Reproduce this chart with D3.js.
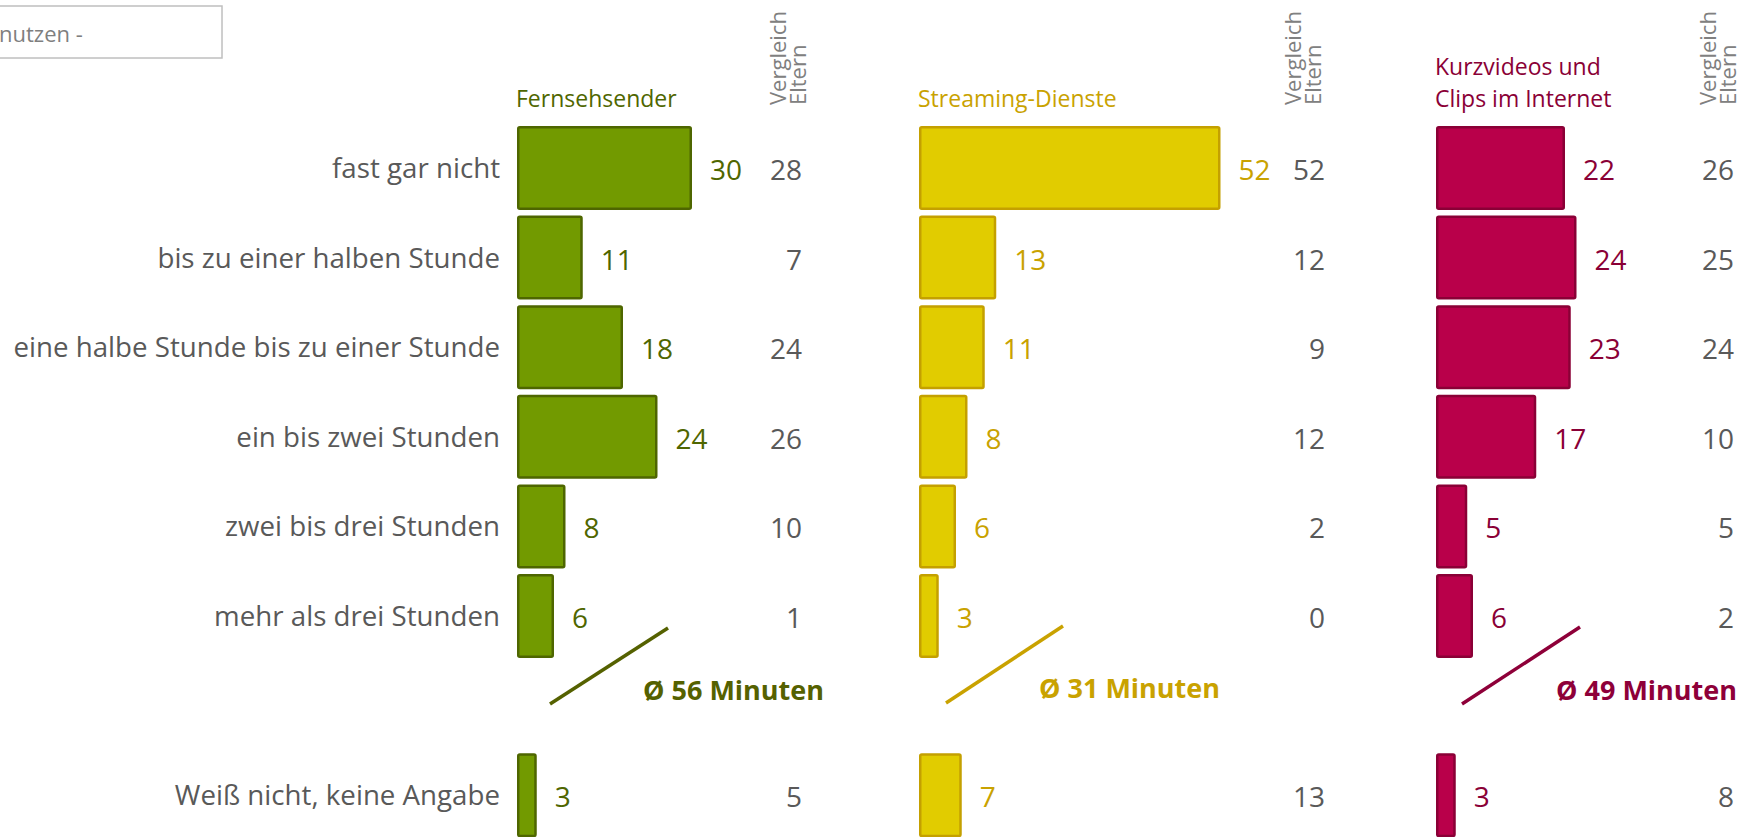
<!DOCTYPE html>
<html>
<head>
<meta charset="utf-8">
<script src="https://cdn.jsdelivr.net/npm/d3@7"></script>
<style>
  html, body { margin: 0; padding: 0; background: #ffffff; overflow: hidden; }
  svg { display: block; font-family: "Open Sans", "Noto Sans", sans-serif; }
</style>
</head>
<body>
<svg id="chart" width="1752" height="837"></svg>
<script>
// ---------- data ----------
const categories = [
  "fast gar nicht",
  "bis zu einer halben Stunde",
  "eine halbe Stunde bis zu einer Stunde",
  "ein bis zwei Stunden",
  "zwei bis drei Stunden",
  "mehr als drei Stunden",
  "Weiß nicht, keine Angabe"
];
const seriesTitles = [
  ["Fernsehsender"],
  ["Streaming-Dienste"],
  ["Kurzvideos und", "Clips im Internet"]
];
const fernsehValues   = [30, 11, 18, 24, 8, 6, 3];
const fernsehEltern   = [28, 7, 24, 26, 10, 1, 5];
const streamingValues = [52, 13, 11, 8, 6, 3, 7];
const streamingEltern = [52, 12, 9, 12, 2, 0, 13];
const kurzValues      = [22, 24, 23, 17, 5, 6, 3];
const kurzEltern      = [26, 25, 24, 10, 5, 2, 8];
const averageMinutes  = [56, 31, 49];
const compareTitle    = ["Vergleich", "Eltern"];
const boxText         = "nutzen -";

// ---------- styles / layout (not data) ----------
const palette = [
  { fill: "#729A00", stroke: "#4E6600", text: "#4F6600", line: "#556100" },
  { fill: "#E1CC00", stroke: "#C4A000", text: "#C9A200", line: "#C9A200" },
  { fill: "#B9004A", stroke: "#8A0036", text: "#8A0036", line: "#8E0039" }
];
const layout = [
  { x0: 517,  elternX: 802,  vglX: 786,  lineA: [33, 704], lineB: [151, 628], avgDx: 126, avgY: 700 },
  { x0: 919,  elternX: 1325, vglX: 1301, lineA: [27, 703], lineB: [144, 626], avgDx: 120, avgY: 698 },
  { x0: 1436, elternX: 1734, vglX: 1716, lineA: [26, 704], lineB: [144, 627], avgDx: 120, avgY: 700 }
];
const seriesValues = [fernsehValues, streamingValues, kurzValues];
const seriesEltern = [fernsehEltern, streamingEltern, kurzEltern];

const svg = d3.select("#chart");

// row band scale: six answer rows, one empty slot, then "Weiß nicht"
const GAP = "__gap__";
const rowDomain = [...categories.slice(0, 6), GAP, categories[6]];
const step = 89.6;
const y = d3.scaleBand()
  .domain(rowDomain)
  .range([126 - 2.8, 126 - 2.8 + step * rowDomain.length])
  .paddingInner(0.0625)
  .paddingOuter(0.03125);

const x = d3.scaleLinear().domain([0, 100]).range([0, 575]);
const SW = 2.5;

// top-left box
svg.append("rect")
  .attr("x", -2).attr("y", 6).attr("width", 224).attr("height", 52)
  .attr("fill", "#fff").attr("stroke", "#BFBFBF").attr("stroke-width", 1.5);
svg.append("text")
  .attr("x", -1).attr("y", 42)
  .attr("font-size", 22).attr("fill", "#7F7F7F")
  .text(boxText);

// category labels
svg.append("g").selectAll("text")
  .data(categories)
  .join("text")
  .attr("x", 500)
  .attr("y", d => y(d) + y.bandwidth() / 2 + 10)
  .attr("text-anchor", "end")
  .attr("font-size", 27.7)
  .attr("fill", "#595959")
  .text(d => d);

// columns
layout.forEach((L, s) => {
  const col = palette[s];
  const g = svg.append("g");
  const rows = categories.map((c, i) => ({ c, v: seriesValues[s][i], e: seriesEltern[s][i] }));

  // series title
  const lines = seriesTitles[s];
  g.append("g").selectAll("text")
    .data(lines)
    .join("text")
    .attr("x", L.x0 - 1)
    .attr("y", (d, i) => 107 - (lines.length - 1 - i) * 32)
    .attr("font-size", 23)
    .attr("fill", col.text)
    .text(d => d);

  // "Vergleich Eltern" rotated header
  g.append("g").selectAll("text")
    .data(compareTitle)
    .join("text")
    .attr("transform", (d, i) => `translate(${L.vglX + i * 20},105) rotate(-90)`)
    .attr("font-size", 22)
    .attr("fill", "#808080")
    .text(d => d);

  // bars
  g.append("g").selectAll("rect")
    .data(rows)
    .join("rect")
    .attr("x", L.x0 + SW / 2)
    .attr("y", d => y(d.c) + SW / 2)
    .attr("width", d => x(d.v))
    .attr("height", y.bandwidth() - SW)
    .attr("rx", 1.5)
    .attr("fill", col.fill)
    .attr("stroke", col.stroke)
    .attr("stroke-width", SW);

  // value labels
  g.append("g").selectAll("text")
    .data(rows)
    .join("text")
    .attr("x", d => L.x0 + x(d.v) + SW + 18)
    .attr("y", d => y(d.c) + y.bandwidth() / 2 + 12)
    .attr("font-size", 28)
    .attr("fill", col.text)
    .text(d => d.v);

  // parents comparison
  g.append("g").selectAll("text")
    .data(rows)
    .join("text")
    .attr("x", L.elternX)
    .attr("y", d => y(d.c) + y.bandwidth() / 2 + 12)
    .attr("text-anchor", "end")
    .attr("font-size", 28)
    .attr("fill", "#595959")
    .text(d => d.e);

  // average annotation
  g.append("line")
    .attr("x1", L.x0 + L.lineA[0]).attr("y1", L.lineA[1])
    .attr("x2", L.x0 + L.lineB[0]).attr("y2", L.lineB[1])
    .attr("stroke", col.line).attr("stroke-width", 3.5);
  g.append("text")
    .attr("x", L.x0 + L.avgDx)
    .attr("y", L.avgY)
    .attr("font-size", 27)
    .attr("font-weight", "bold")
    .attr("fill", col.line)
    .text(`Ø ${averageMinutes[s]} Minuten`);
});
</script>
</body>
</html>
